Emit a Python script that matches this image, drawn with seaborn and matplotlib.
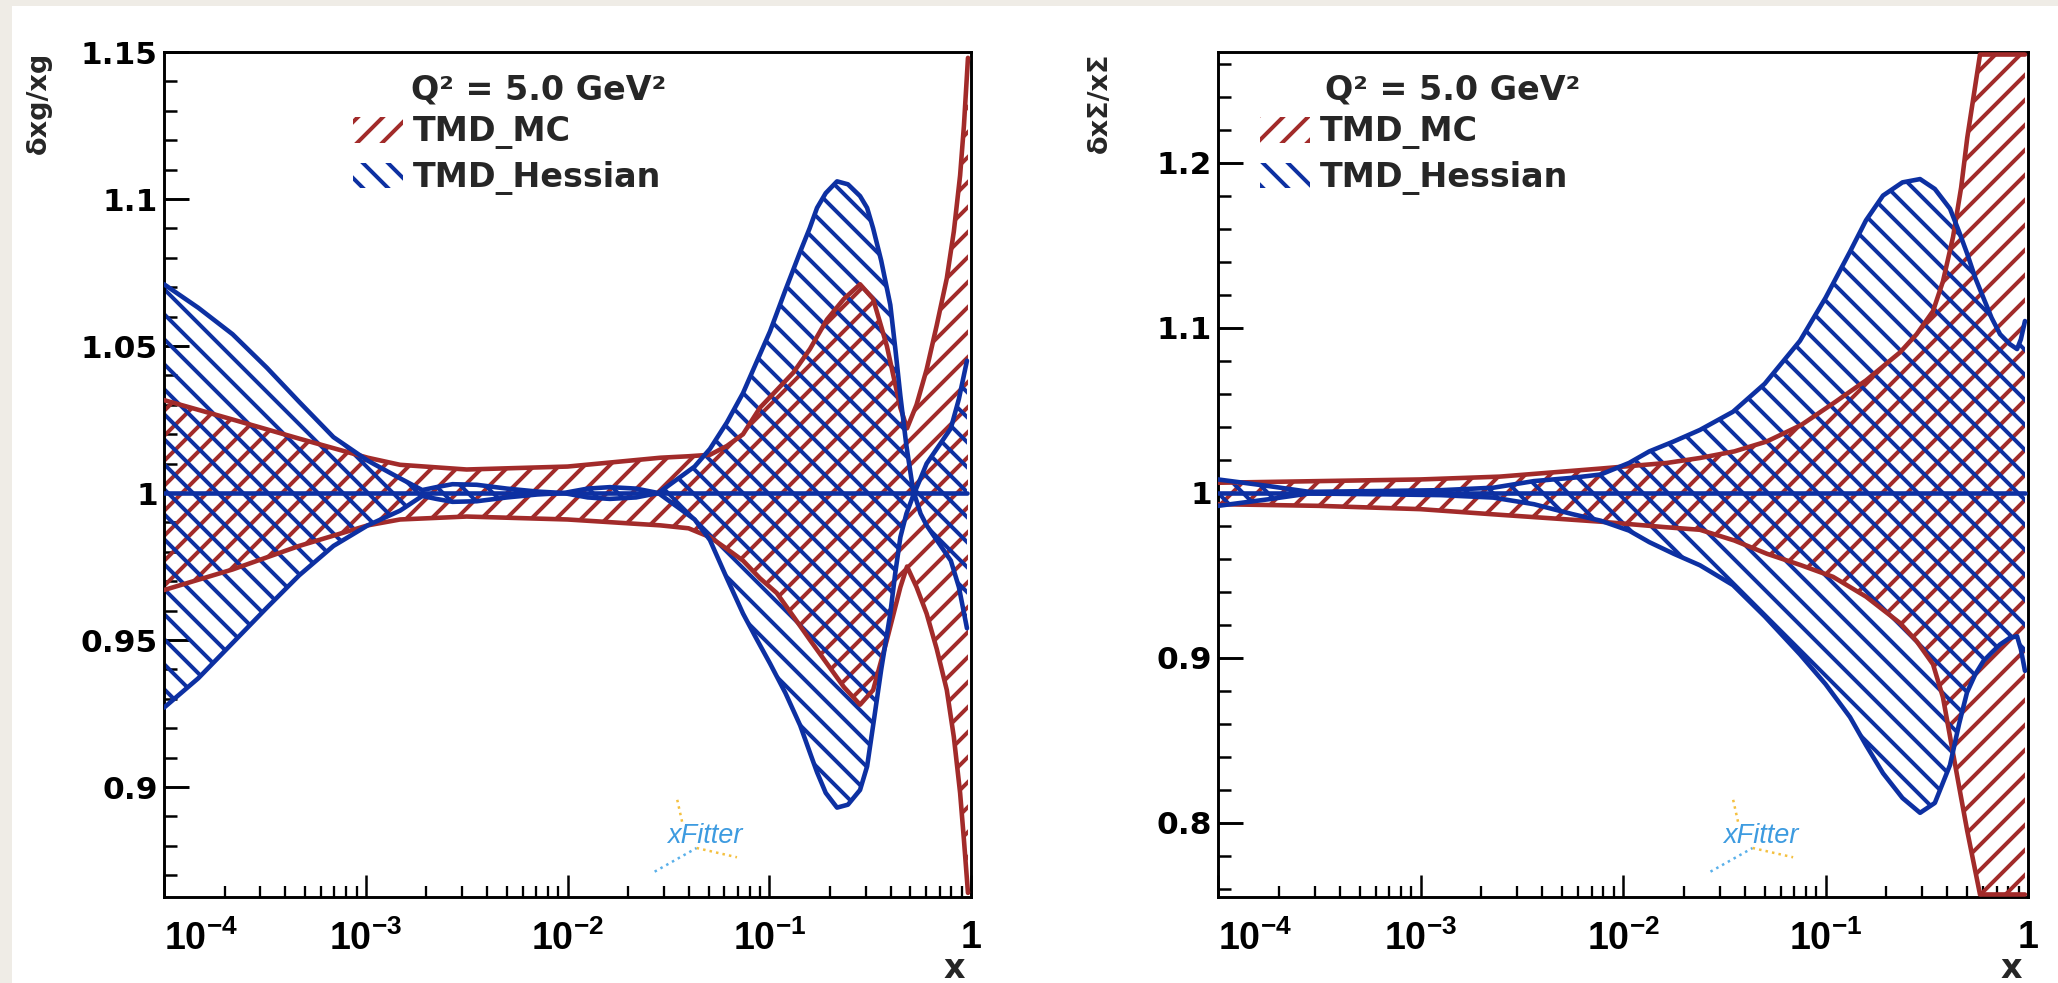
import numpy as np
import pandas as pd
import matplotlib
matplotlib.use("Agg")
import matplotlib.pyplot as plt
import seaborn as sns
from matplotlib import font_manager as fm
from matplotlib.patches import Patch, Rectangle
from matplotlib.ticker import LogLocator, NullFormatter, FixedLocator, MultipleLocator

# ---------------- data (log10 x, band edges) ----------------
# gluon, TMD_Hessian
g_hess_logx = [-4.0, -3.83, -3.66, -3.49, -3.33, -3.16, -2.99, -2.83, -2.72, -2.65, -2.57, -2.45,
               -2.3, -2.15, -2.02, -1.9, -1.79, -1.66, -1.55, -1.45, -1.37, -1.294, -1.21, -1.13,
               -1.06, -0.996, -0.92, -0.847, -0.80, -0.763, -0.72, -0.664, -0.61, -0.55, -0.515,
               -0.485, -0.445, -0.40, -0.375, -0.35, -0.32, -0.287, -0.25, -0.22, -0.16, -0.10,
               -0.06, -0.02]
g_hess_up = [1.071, 1.063, 1.054, 1.0426, 1.031, 1.019, 1.011, 1.005, 1.001, 1.002, 1.003, 1.0028,
             1.0015, 1.0005, 1.000, 1.0015, 1.002, 1.0015, 1.000, 1.005, 1.009, 1.015, 1.024, 1.034,
             1.045, 1.055, 1.069, 1.082, 1.090, 1.097, 1.102, 1.106, 1.105, 1.101, 1.097,
             1.090, 1.079, 1.064, 1.049, 1.033, 1.016, 1.001, 0.993, 0.989, 0.983, 0.977,
             0.968, 0.954]
g_hess_lo = [0.927, 0.937, 0.949, 0.961, 0.972, 0.982, 0.989, 0.994, 0.999, 0.998, 0.997, 0.9972,
             0.9985, 0.9995, 1.000, 0.9985, 0.998, 0.9985, 1.000, 0.995, 0.991, 0.984, 0.971, 0.959,
             0.950, 0.942, 0.932, 0.921, 0.912, 0.905, 0.898, 0.893, 0.894, 0.899, 0.907,
             0.921, 0.940, 0.959, 0.973, 0.985, 0.993, 0.999, 1.005, 1.010, 1.016, 1.022,
             1.032, 1.045]
# gluon, TMD_MC
g_mc_logx = [-4.0, -3.66, -3.33, -2.99, -2.83, -2.5, -2.0, -1.54, -1.40, -1.294, -1.21, -1.13,
             -1.046, -0.963, -0.88, -0.798, -0.714, -0.63, -0.55, -0.485, -0.417, -0.35, -0.317,
             -0.27, -0.22, -0.17, -0.12, -0.085, -0.054, -0.035, -0.015]
g_mc_up = [1.0316, 1.025, 1.0185, 1.012, 1.0096, 1.008, 1.009, 1.012, 1.0125, 1.013, 1.016, 1.020,
           1.029, 1.035, 1.041, 1.049, 1.059, 1.066, 1.071, 1.066, 1.050, 1.029, 1.022,
           1.030, 1.042, 1.057, 1.073, 1.089, 1.108, 1.125, 1.148]
g_mc_lo = [0.967, 0.974, 0.982, 0.989, 0.991, 0.992, 0.991, 0.989, 0.988, 0.985, 0.981, 0.977,
           0.971, 0.966, 0.958, 0.950, 0.942, 0.934, 0.928, 0.933, 0.950, 0.968, 0.975,
           0.968, 0.959, 0.947, 0.933, 0.917, 0.898, 0.882, 0.864]

# singlet, TMD_Hessian
s_hess_logx = [-4.0, -3.75, -3.55, -3.2, -2.9, -2.64, -2.44, -2.25, -2.11, -1.97, -1.87, -1.75,
               -1.62, -1.457, -1.30, -1.126, -1.00, -0.879, -0.80, -0.716, -0.62, -0.533, -0.46,
               -0.385, -0.34, -0.301, -0.26, -0.22, -0.18, -0.138, -0.09, -0.054, -0.035, -0.015]
s_hess_up = [1.008, 1.004, 1.0005, 1.001, 1.0015, 1.003, 1.007, 1.009, 1.011, 1.018, 1.025, 1.031,
             1.038, 1.049, 1.066, 1.092, 1.118, 1.146, 1.165, 1.180, 1.188, 1.190, 1.184,
             1.172, 1.158, 1.145, 1.130, 1.118, 1.106, 1.096, 1.090, 1.087, 1.093, 1.104]
s_hess_lo = [0.992, 0.996, 0.9995, 0.999, 0.9985, 0.997, 0.993, 0.987, 0.983, 0.977, 0.970, 0.963,
             0.956, 0.944, 0.925, 0.902, 0.884, 0.864, 0.847, 0.830, 0.815, 0.806, 0.812,
             0.835, 0.860, 0.879, 0.890, 0.898, 0.903, 0.908, 0.912, 0.913, 0.905, 0.892]
# singlet, TMD_MC
s_mc_logx = [-4.0, -3.5, -3.0, -2.61, -2.11, -1.783, -1.62, -1.45, -1.29, -1.12, -0.963, -0.80,
             -0.632, -0.55, -0.469, -0.42, -0.37, -0.33, -0.30, -0.237, -0.015]
s_mc_up = [1.006, 1.007, 1.008, 1.0097, 1.0146, 1.018, 1.021, 1.025, 1.031, 1.041, 1.054, 1.068,
           1.085, 1.096, 1.110, 1.128, 1.155, 1.185, 1.215, 1.280, 1.300]
s_mc_lo = [0.993, 0.992, 0.990, 0.9866, 0.9824, 0.979, 0.9775, 0.971, 0.963, 0.956, 0.949, 0.937,
           0.921, 0.910, 0.896, 0.876, 0.842, 0.815, 0.795, 0.740, 0.720]

series_labels = ["TMD_MC", "TMD_Hessian"]
scale_label = "Q² = 5.0 GeV²"
xtick_vals = [1e-4, 1e-3, 1e-2, 1e-1, 1.0]
xtick_labels = ["$10^{-4}$", "$10^{-3}$", "$10^{-2}$", "$10^{-1}$", "$1$"]
g_yticks = [0.9, 0.95, 1.0, 1.05, 1.1, 1.15]
s_yticks = [0.8, 0.9, 1.0, 1.1, 1.2]
g_ylim = (0.8626, 1.15)
s_ylim = (0.755, 1.267)
g_ylabel = "δxg/xg"
s_ylabel = "δxΣ/xΣ"

# ---------------- style ----------------
RED = "#a22b2a"
BLUE = "#0d30a2"

sns.set_style("ticks")
names = {f.name for f in fm.fontManager.ttflist}
if "Liberation Sans Narrow" in names:
    XFONT, XSIZE = "Liberation Sans Narrow", 20
else:
    XFONT, XSIZE = "Liberation Sans", 18
plt.rcParams["font.family"] = ["DejaVu Sans"]
plt.rcParams["font.weight"] = "bold"
plt.rcParams["hatch.linewidth"] = 1.9
plt.rcParams["mathtext.fontset"] = "custom"
plt.rcParams["mathtext.rm"] = f"{XFONT}:bold"
plt.rcParams["mathtext.it"] = f"{XFONT}:bold"
plt.rcParams["mathtext.bf"] = f"{XFONT}:bold"
plt.rcParams["mathtext.default"] = "rm"

fig = plt.figure(figsize=(13.72, 6.5534), dpi=150, facecolor="#efece6")
fig.patches.append(Rectangle((12 / 2058, 0), 1, 1 - 6 / 983, transform=fig.transFigure,
                             facecolor="white", edgecolor="none", zorder=-5))

ax_g = fig.add_axes([164 / 2058, 1 - 897 / 983, 807 / 2058, 845 / 983])
ax_s = fig.add_axes([1218 / 2058, 1 - 897 / 983, 810 / 2058, 845 / 983])


def band(ax, logx, up, lo, color, hatch, ylim):
    x = 10 ** np.asarray(logx)
    m = 0.003 * (ylim[1] - ylim[0])
    lo_c = np.clip(np.asarray(lo), ylim[0] + m, ylim[1] - m)
    up_c = np.clip(np.asarray(up), ylim[0] + m, ylim[1] - m)
    ax.fill_between(x, lo_c, up_c, facecolor="none", edgecolor=color, hatch=hatch,
                    linewidth=0, zorder=2)
    df = pd.DataFrame({"x": x, "up": up_c, "lo": lo_c})
    for col in ("up", "lo"):
        sns.lineplot(data=df, x="x", y=col, ax=ax, color=color, lw=2.2, estimator=None,
                     sort=False, zorder=4)
    return x


def panel(ax, hess, mc, ylim, yticks, yminor, ylabel, ylab_x):
    ax.set_xscale("log")
    band(ax, *mc, RED, "//", ylim)
    hx = band(ax, *hess, BLUE, "\\\\", ylim)
    sns.lineplot(x=hx, y=np.ones_like(hx), ax=ax, color=BLUE, lw=2.2, zorder=5)

    ax.set_xlim(1e-4, 1.0)
    ax.set_ylim(*ylim)
    ax.xaxis.set_major_locator(FixedLocator(xtick_vals))
    ax.set_xticklabels(xtick_labels, fontsize=XSIZE)
    ax.get_xticklabels()[0].set_horizontalalignment("left")
    ax.xaxis.set_minor_locator(LogLocator(base=10, subs=np.arange(2, 10), numticks=20))
    ax.xaxis.set_minor_formatter(NullFormatter())
    ax.yaxis.set_major_locator(FixedLocator(yticks))
    ax.set_yticklabels([f"{v:g}" for v in yticks], fontsize=15, fontweight="bold",
                       fontfamily="DejaVu Sans")
    ax.yaxis.set_minor_locator(MultipleLocator(yminor))

    ax.tick_params(axis="both", which="both", direction="in", top=False, right=False,
                   colors="black")
    ax.tick_params(axis="y", which="major", length=12, width=1.4, pad=3)
    ax.tick_params(axis="y", which="minor", length=6, width=1.2)
    ax.tick_params(axis="x", which="major", length=10.5, width=1.2, pad=11)
    ax.tick_params(axis="x", which="minor", length=5.3, width=1.1)
    for sp in ax.spines.values():
        sp.set_linewidth(1.4)
        sp.set_color("black")
        sp.set_visible(True)

    ax.set_ylabel(ylabel, loc="top", fontsize=13, fontweight="bold")
    ax.yaxis.set_label_coords(ylab_x, 1.0)
    ax.set_xlabel("x", loc="right", fontsize=16, fontweight="bold")
    ax.xaxis.label.set_verticalalignment("baseline")
    ax.xaxis.set_label_coords(0.993, -0.096)

    handles = [Patch(facecolor="none", edgecolor=RED, hatch="//", linewidth=0),
               Patch(facecolor="none", edgecolor=BLUE, hatch="\\\\", linewidth=0)]
    return handles


hd = panel(ax_g, (g_hess_logx, g_hess_up, g_hess_lo), (g_mc_logx, g_mc_up, g_mc_lo),
           g_ylim, g_yticks, 0.01, g_ylabel, -0.139)
hd2 = panel(ax_s, (s_hess_logx, s_hess_up, s_hess_lo), (s_mc_logx, s_mc_up, s_mc_lo),
            s_ylim, s_yticks, 0.02, s_ylabel, -0.13)

for ax, handles, sym_x, title_x in [(ax_g, hd, 0.234, 0.306), (ax_s, hd2, 0.052, 0.132)]:
    ax.text(title_x, 0.955, scale_label, transform=ax.transAxes, ha="left", va="center",
            fontsize=16, fontweight="bold", zorder=10)
    ax.legend(handles, series_labels, loc="upper left", bbox_to_anchor=(sym_x, 0.925),
              frameon=False, borderpad=0, borderaxespad=0, handlelength=1.5,
              handleheight=0.8, handletextpad=0.3, labelspacing=0.35,
              prop={"weight": "bold", "size": 16})
    # xFitter logo
    ax.text(0.67, 0.072, "xFitter", transform=ax.transAxes, ha="center", va="center",
            color="#3d9be0", style="italic", fontweight="normal", family="Liberation Sans",
            fontsize=13, zorder=3)
    ax.plot([0.636, 0.642], [0.115, 0.089], transform=ax.transAxes, color="#f4c040",
            lw=1.2, ls=":", zorder=3)
    ax.plot([0.608, 0.660], [0.030, 0.058], transform=ax.transAxes, color="#5ab0ea",
            lw=1.2, ls=":", zorder=3)
    ax.plot([0.660, 0.710], [0.058, 0.047], transform=ax.transAxes, color="#f4c040",
            lw=1.2, ls=":", zorder=3)

fig.savefig("out.png", dpi=150, facecolor=fig.get_facecolor())
